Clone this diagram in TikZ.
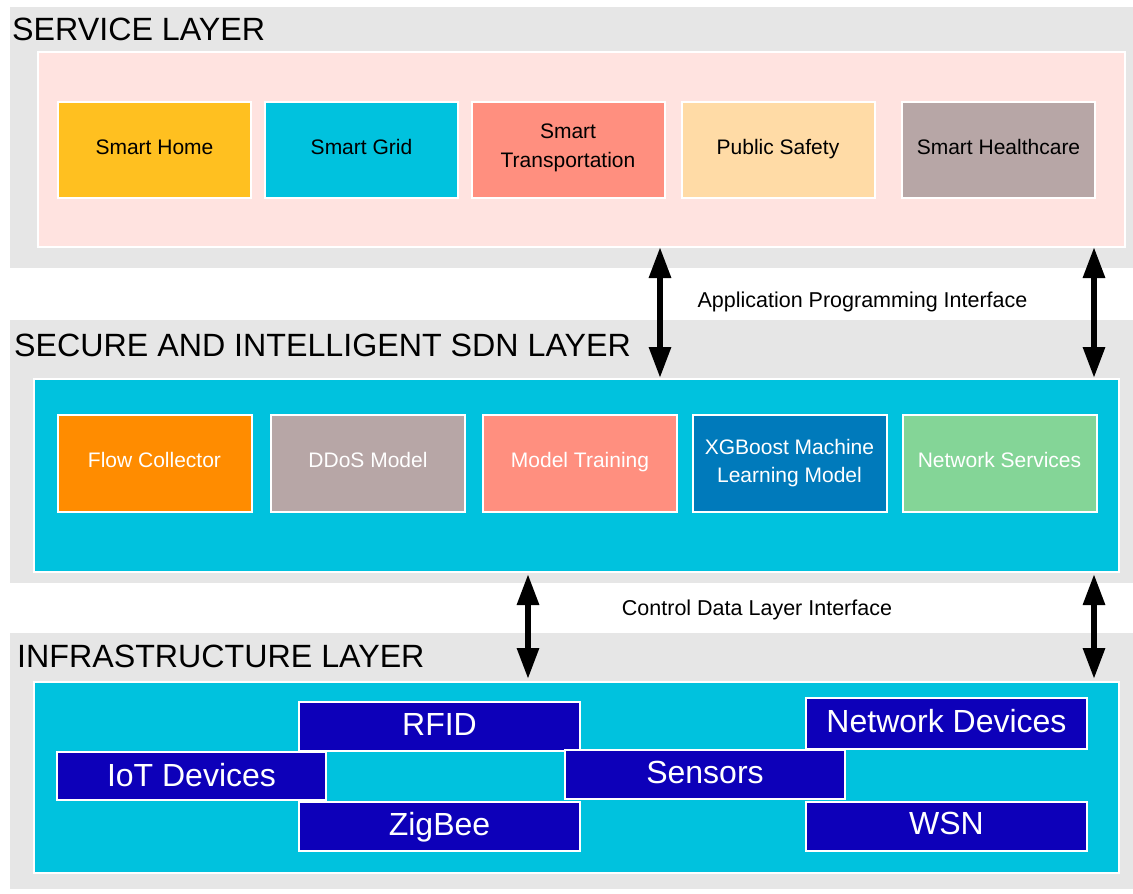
\documentclass[tikz,border=0pt]{standalone}
\usepackage{fontspec}
\setmainfont{Liberation Sans}
\usetikzlibrary{arrows.meta}

\definecolor{panelgray}{HTML}{E6E6E6}
\definecolor{svcpink}{HTML}{FFE3E0}
\definecolor{amber}{HTML}{FFC020}
\definecolor{cyanfill}{HTML}{00C2DE}
\definecolor{salmon}{HTML}{FF8F7F}
\definecolor{peach}{HTML}{FFDBA6}
\definecolor{mauve}{HTML}{B7A6A6}
\definecolor{orangefill}{HTML}{FF8C00}
\definecolor{steelblue}{HTML}{007ABB}
\definecolor{mint}{HTML}{84D597}
\definecolor{deepblue}{HTML}{0D00B9}

\tikzset{
  panel/.style={fill=panelgray, draw=none},
  innerpanel/.style={draw=white, line width=2pt},
  layertitle/.style={anchor=base west, inner sep=0pt, font=\fontsize{32.2}{36}\selectfont},
  svcbox/.style={draw=white, line width=2pt, inner sep=0pt, align=center,
    minimum width=193pt, minimum height=96pt, font=\fontsize{21}{29.5}\selectfont},
  sdnbox/.style={svcbox, minimum width=194pt, minimum height=97pt, text=white,
    font=\fontsize{21}{28}\selectfont},
  oneline/.style={text height=16pt, text depth=8pt},
  infrabox/.style={draw=white, line width=2pt, inner sep=0pt, fill=deepblue, text=white,
    minimum width=281pt, minimum height=49pt, font=\fontsize{32}{36}\selectfont,
    text height=24pt, text depth=7pt},
  iflabel/.style={anchor=base, inner sep=0pt, font=\fontsize{21.5}{24}\selectfont},
  twoway/.style={line width=6pt, {Triangle[length=31pt,width=21pt]}-{Triangle[length=31pt,width=21pt]}}
}

\begin{document}
\begin{tikzpicture}[x=1pt,y=-1pt]
\useasboundingbox (0,0) rectangle (1133,894);

% layer backgrounds
\fill[panel] (10,7) rectangle (1133,268);
\fill[panel] (10,320) rectangle (1133,583);
\fill[panel] (10,633) rectangle (1133,889);

% inner panels
\node[innerpanel, fill=svcpink, inner sep=0pt, minimum width=1087pt, minimum height=195pt] (svcin) at (581.5,149.5) {};
\node[innerpanel, fill=cyanfill, inner sep=0pt, minimum width=1085pt, minimum height=193pt] (sdnin) at (576.5,475.5) {};
\node[innerpanel, fill=cyanfill, inner sep=0pt, minimum width=1085pt, minimum height=191pt] (infin) at (576.5,777.5) {};

% layer titles
\node[layertitle] (t1) at (12,40) {SERVICE LAYER};
\node[layertitle] (t2) at (14,356) {SECURE AND INTELLIGENT SDN LAYER};
\node[layertitle] (t3) at (17,667) {INFRASTRUCTURE LAYER};

% service layer
\node[svcbox, oneline, fill=amber] (home) at (154.5,150) {Smart Home};
\node[svcbox, oneline, fill=cyanfill] (grid) at (361.5,150) {Smart Grid};
\node[svcbox, fill=salmon, text depth=8.5pt] (trans) at (568,150) {Smart\\Transportation};
\node[svcbox, oneline, fill=peach] (safety) at (778,150) {Public Safety};
\node[svcbox, oneline, fill=mauve] (health) at (998.5,150) {Smart Healthcare};

% SDN layer
\node[sdnbox, oneline, fill=orangefill] (flow) at (154.5,463.5) {Flow Collector};
\node[sdnbox, oneline, fill=mauve] (ddos) at (368,463.5) {DDoS Model};
\node[sdnbox, oneline, fill=salmon] (train) at (580,463.5) {Model Training};
\node[sdnbox, fill=steelblue, text depth=6pt] (xgb) at (789.5,463.5) {XGBoost Machine\\Learning Model};
\node[sdnbox, oneline, fill=mint] (netsrv) at (999.5,463.5) {Network Services};

% infrastructure layer
\node[infrabox] (rfid) at (439.5,726.5) {RFID};
\node[infrabox] (zigbee) at (439.5,826.5) {ZigBee};
\node[infrabox, minimum width=269pt, minimum height=48pt, text height=26pt, text depth=5pt] (iot) at (191.5,776) {IoT Devices};
\node[infrabox, minimum height=51pt] (netdev) at (946.5,723.5) {Network Devices};
\node[infrabox, minimum width=280pt] (sensors) at (705,774.5) {Sensors};
\node[infrabox] (wsn) at (946.5,826) {WSN};

% interface labels
\node[iflabel] (api) at (862.5,307) {Application Programming Interface};
\node[iflabel] (cdl) at (757,615) {Control Data Layer Interface};

% interface arrow end points
\coordinate (apiLtop) at (660,247);
\coordinate (apiLbot) at (660,378);
\coordinate (apiRtop) at (1094,247);
\coordinate (apiRbot) at (1094,378);
\coordinate (cdlLtop) at (528,574);
\coordinate (cdlLbot) at (528,679);
\coordinate (cdlRtop) at (1094,574);
\coordinate (cdlRbot) at (1094,679);

\draw[twoway] (apiLtop) -- (apiLbot);
\draw[twoway] (apiRtop) -- (apiRbot);
\draw[twoway] (cdlLtop) -- (cdlLbot);
\draw[twoway] (cdlRtop) -- (cdlRbot);
\end{tikzpicture}
\end{document}
